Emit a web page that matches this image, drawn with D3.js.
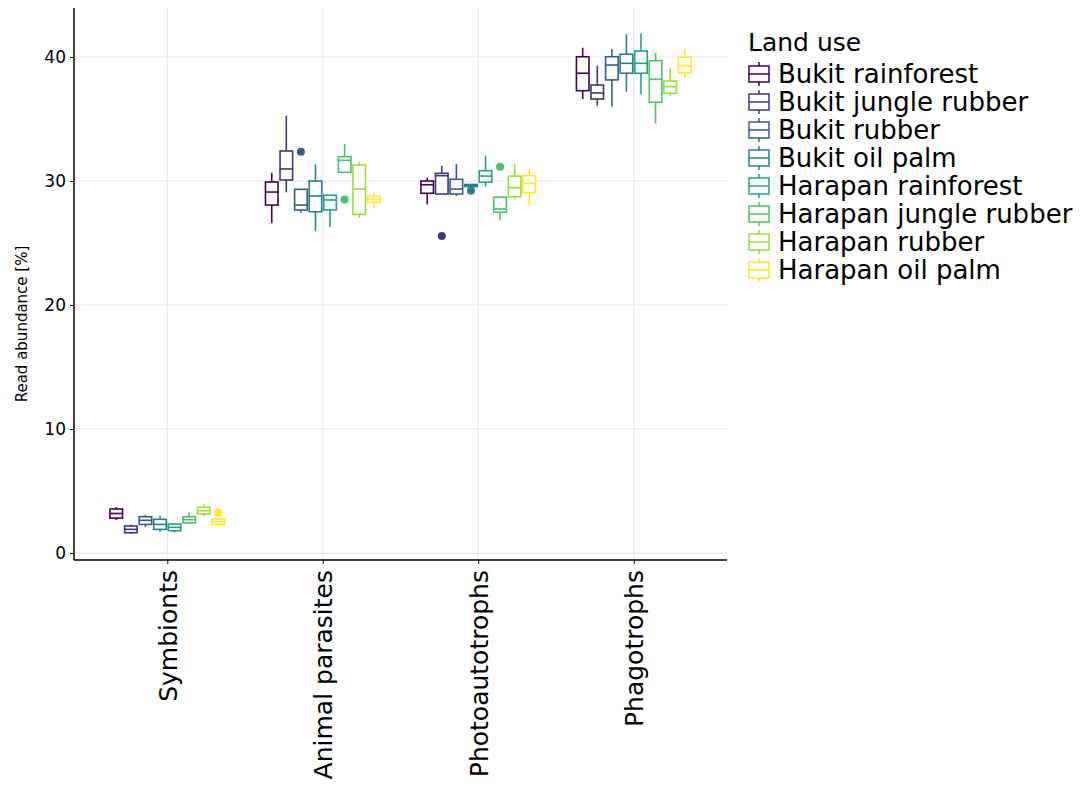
<!DOCTYPE html>
<html>
<head>
<meta charset="utf-8">
<script src="https://cdn.jsdelivr.net/npm/d3@7"></script>
<style>
  html, body { margin: 0; padding: 0; background: #fff; }
  svg { display: block; font-family: "DejaVu Sans", sans-serif; }
</style>
</head>
<body>
<svg id="chart" width="1082" height="791"></svg>
<script>
// Trophic groups on the x axis
const categories = ["Symbionts", "Animal parasites", "Photoautotrophs", "Phagotrophs"];
// Land-use systems (dodged boxes, legend order)
const landUses = ["Bukit rainforest", "Bukit jungle rubber", "Bukit rubber", "Bukit oil palm",
                  "Harapan rainforest", "Harapan jungle rubber", "Harapan rubber", "Harapan oil palm"];
const colors = ["#440154", "#46337E", "#365C8D", "#277F8E", "#1FA187", "#4AC16D", "#9FDA3A", "#FDE725"];
const yTicks = [0, 10, 20, 30, 40];

// Box statistics, one row per category, one value per land use
const whiskerLow = [
  [2.66, 1.53, 2.10, 1.72, 1.67, 2.36, 2.98, 2.15],
  [26.61, 29.09, 27.44, 25.97, 26.29, 30.70, 27.04, 27.85],
  [28.12, 28.95, 28.79, 29.45, 29.54, 26.85, 28.52, 28.06],
  [36.61, 36.07, 35.99, 37.20, 36.99, 34.65, 36.88, 38.33]
];
const q1 = [
  [2.82, 1.64, 2.31, 1.91, 1.80, 2.44, 3.15, 2.31],
  [28.06, 30.08, 27.66, 27.52, 27.66, 30.70, 27.31, 28.28],
  [29.01, 28.95, 28.95, 29.55, 29.90, 27.48, 28.73, 29.06],
  [37.28, 36.61, 38.15, 38.69, 38.69, 36.35, 37.07, 38.73]
];
const median = [
  [3.19, 1.91, 2.64, 2.31, 2.07, 2.69, 3.41, 2.52],
  [29.11, 30.97, 28.06, 28.79, 28.47, 31.67, 29.35, 28.55],
  [29.70, 30.43, 29.35, 29.62, 30.40, 27.74, 29.46, 29.81],
  [38.69, 37.10, 39.35, 39.49, 39.49, 38.20, 37.61, 39.30]
];
const q3 = [
  [3.55, 2.18, 2.93, 2.72, 2.34, 2.93, 3.69, 2.74],
  [29.92, 32.42, 29.33, 30.00, 28.85, 31.96, 31.29, 28.77],
  [30.00, 30.62, 30.14, 29.72, 30.83, 28.69, 30.40, 30.43],
  [40.02, 37.74, 40.02, 40.22, 40.48, 39.70, 38.06, 39.98]
];
const whiskerHigh = [
  [3.71, 2.31, 3.06, 2.98, 2.40, 3.28, 3.93, 2.80],
  [30.65, 35.27, 29.35, 31.35, 28.85, 32.98, 31.51, 29.06],
  [30.27, 31.23, 31.37, 29.75, 32.04, 28.69, 31.37, 31.02],
  [40.75, 39.30, 40.65, 41.83, 41.91, 40.35, 39.09, 40.65]
];
// Outliers: [category index, land-use index, value]
const outliers = [
  [0, 7, 3.25],
  [1, 2, 32.36],
  [1, 5, 28.50],
  [2, 1, 25.56],
  [2, 3, 29.22],
  [2, 5, 31.15]
];

const svg = d3.select("#chart");
const plot = { left: 74, right: 727, top: 8, bottom: 560 };

const x = d3.scalePoint().domain(categories).range([plot.left, plot.right]).padding(0.6);
const y = d3.scaleLinear().domain([-0.56, 43.95]).range([plot.bottom, plot.top]);
const dodge = d3.scaleBand().domain(landUses).range([-0.375 * x.step(), 0.375 * x.step()]).padding(0);
const color = d3.scaleOrdinal().domain(landUses).range(colors);

// Grid
const grid = svg.append("g").attr("stroke", "#e6e6e6").attr("stroke-width", 1);
grid.selectAll("line.h").data(yTicks).join("line")
  .attr("x1", plot.left).attr("x2", plot.right)
  .attr("y1", d => y(d)).attr("y2", d => y(d));
grid.selectAll("line.v").data(categories).join("line")
  .attr("x1", d => x(d)).attr("x2", d => x(d))
  .attr("y1", plot.top).attr("y2", plot.bottom);

// Boxes
const boxes = [];
categories.forEach((c, ci) => landUses.forEach((l, li) => boxes.push({
  c, l, lo: whiskerLow[ci][li], q1: q1[ci][li], med: median[ci][li], q3: q3[ci][li], hi: whiskerHigh[ci][li]
})));

const bw = dodge.bandwidth();
const bg = svg.append("g").attr("fill", "none").attr("stroke-width", 1.6);
const b = bg.selectAll("g").data(boxes).join("g")
  .attr("stroke", d => color(d.l))
  .attr("transform", d => `translate(${x(d.c) + dodge(d.l) + bw / 2},0)`);
b.append("line").attr("x1", 0).attr("x2", 0).attr("y1", d => y(d.hi)).attr("y2", d => y(d.q3));
b.append("line").attr("x1", 0).attr("x2", 0).attr("y1", d => y(d.q1)).attr("y2", d => y(d.lo));
b.append("rect").attr("x", -bw / 2 + 1).attr("width", bw - 2)
  .attr("y", d => y(d.q3)).attr("height", d => Math.max(0.5, y(d.q1) - y(d.q3)))
  .attr("fill", "#fff");
b.append("line").attr("x1", -bw / 2 + 1).attr("x2", bw / 2 - 1)
  .attr("y1", d => y(d.med)).attr("y2", d => y(d.med));

svg.append("g").selectAll("circle").data(outliers).join("circle")
  .attr("cx", d => x(categories[d[0]]) + dodge(landUses[d[1]]) + bw / 2)
  .attr("cy", d => y(d[2]))
  .attr("r", 4)
  .attr("fill", d => colors[d[1]]);

// Axes
const yAxis = svg.append("g").attr("transform", `translate(${plot.left},0)`)
  .call(d3.axisLeft(y).tickValues(yTicks).tickSize(4).tickPadding(4));
yAxis.select(".domain").attr("d", `M0,${plot.top}V${plot.bottom}`).attr("stroke-width", 1.5);
yAxis.selectAll("text").attr("font-size", 17).attr("font-family", "DejaVu Sans").attr("fill", "#000");

const xAxis = svg.append("g").attr("transform", `translate(0,${plot.bottom})`)
  .call(d3.axisBottom(x).tickSize(4).tickPadding(0));
xAxis.select(".domain").attr("d", `M${plot.left},0H${plot.right}`).attr("stroke-width", 1.5);
xAxis.selectAll("text")
  .attr("font-size", 25).attr("font-family", "DejaVu Sans").attr("fill", "#000")
  .attr("transform", "rotate(-90)")
  .attr("text-anchor", "end")
  .attr("x", -10).attr("y", 0).attr("dy", "0.36em");

svg.append("text")
  .attr("transform", `translate(27,324) rotate(-90)`)
  .attr("text-anchor", "middle")
  .attr("font-size", 15)
  .text("Read abundance [%]");

// Legend
const legend = svg.append("g").attr("transform", "translate(748,0)");
legend.append("text").attr("x", 0).attr("y", 42).attr("dy", "0.35em")
  .attr("font-size", 25).text("Land use");
const row = legend.selectAll("g.row").data(landUses).join("g")
  .attr("transform", (d, i) => `translate(0,${74 + i * 28})`);
row.append("line").attr("x1", 11).attr("x2", 11).attr("y1", -12).attr("y2", 12)
  .attr("stroke", d => color(d)).attr("stroke-width", 1.5);
row.append("rect").attr("x", 1).attr("y", -8).attr("width", 20).attr("height", 16)
  .attr("fill", "#fff").attr("stroke", d => color(d)).attr("stroke-width", 1.5);
row.append("line").attr("x1", 1).attr("x2", 21).attr("y1", 0).attr("y2", 0)
  .attr("stroke", d => color(d)).attr("stroke-width", 1.5);
row.append("text").attr("x", 30).attr("y", 0).attr("dy", "0.35em")
  .attr("font-size", 26).text(d => d);
</script>
</body>
</html>
